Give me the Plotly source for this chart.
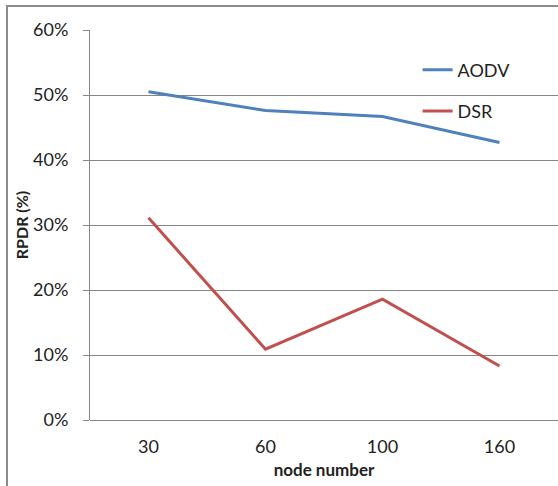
import plotly.graph_objects as go

categories = ["30", "60", "100", "160"]
aodv = [50.5, 47.6, 46.7, 42.7]
dsr = [31.1, 10.9, 18.6, 8.3]
y_ticks = [0, 10, 20, 30, 40, 50, 60]
y_labels = [f"{v}%" for v in y_ticks]

FONT = "Lato"
GRID = "#878787"

fig = go.Figure()
fig.add_trace(go.Scatter(x=categories, y=aodv, mode="lines", name="AODV",
                         line=dict(color="#4F81BD", width=3), legendgroup="a"))
fig.add_trace(go.Scatter(x=categories, y=dsr, mode="lines", name="DSR",
                         line=dict(color="#C0504D", width=3), legendgroup="b"))

fig.update_layout(
    width=558, height=486,
    margin=dict(l=90, r=0, t=30, b=66),
    paper_bgcolor="white", plot_bgcolor="white",
    font=dict(family=FONT, size=18, color="#222222"),
    showlegend=True,
    legend=dict(x=0.70, y=0.945, xanchor="left", yanchor="top",
                bgcolor="rgba(0,0,0,0)", font=dict(size=18, color="#222222"),
                tracegroupgap=15, traceorder="grouped"),
    xaxis=dict(type="category", range=[-0.5, 3.5], showgrid=False,
               showline=False, ticks="", tickfont=dict(size=18),
               ticklabelstandoff=14,
               title=dict(text="<b>node number</b>", font=dict(size=17), standoff=8),
               fixedrange=True),
    yaxis=dict(range=[0, 60], tickvals=y_ticks, ticktext=y_labels,
               showgrid=True, gridcolor=GRID, gridwidth=1,
               showline=True, linecolor=GRID, linewidth=1,
               ticks="outside", ticklen=6, tickcolor=GRID,
               zeroline=True, zerolinecolor=GRID, zerolinewidth=1,
               ticklabelstandoff=11, tickfont=dict(size=18),
               title=dict(text="<b>RPDR (%)</b>", font=dict(size=16), standoff=0),
               fixedrange=True),
)

# outer chart border (Excel chart area), cropped on right/bottom
fig.add_shape(type="rect", xref="paper", yref="paper",
              x0=(7 - 90) / 468, x1=1.2, y0=-0.3, y1=1 + (30 - 6) / 390,
              line=dict(color="#8c8c8c", width=2), fillcolor="rgba(0,0,0,0)",
              layer="below")

fig.write_html("out.html")
